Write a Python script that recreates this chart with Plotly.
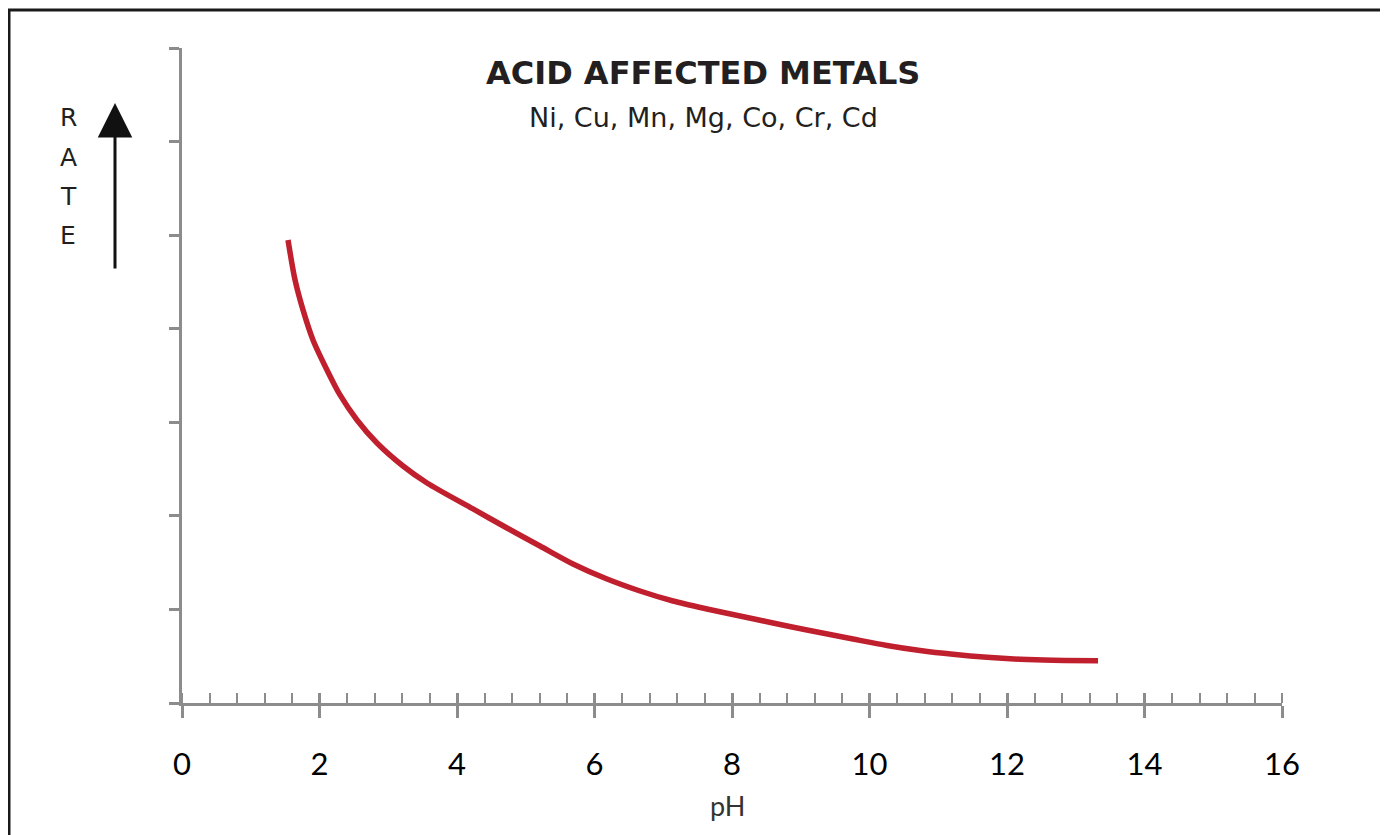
import plotly.graph_objects as go

# Data
ph = [1.542, 1.644, 1.760, 1.905, 2.109, 2.298, 2.545, 2.836, 3.215, 3.564,
      4.233, 4.727, 5.207, 5.687, 6.182, 6.662, 7.142, 7.636, 8.116, 8.596,
      9.091, 9.760, 10.255, 10.735, 11.215, 11.709, 12.189, 12.669, 13.324]
rate = [4.948, 4.521, 4.201, 3.880, 3.559, 3.292, 3.025, 2.779, 2.533, 2.351,
        2.074, 1.870, 1.678, 1.486, 1.325, 1.197, 1.090, 1.005, 0.930, 0.855,
        0.780, 0.684, 0.615, 0.561, 0.520, 0.488, 0.467, 0.456, 0.452]
x_ticks = [0, 2, 4, 6, 8, 10, 12, 14, 16]
title_text = "ACID AFFECTED METALS"
subtitle_text = "Ni, Cu, Mn, Mg, Co, Cr, Cd"
y_letters = ["R", "A", "T", "E"]
x_title = "pH"

OFF = 8  # page offset of the figure (body margin)
W, H = 1380, 827
L, R, T, B = 174, 106, 40, 132
pw, ph_ = W - L - R, H - T - B


def px(xp):
    return (xp - OFF - L) / pw


def py(yp):
    return (H - B - (yp - OFF)) / ph_


AX = "#8c8c8c"
TXT = "#231f20"

fig = go.Figure()
fig.add_trace(go.Scatter(x=ph, y=rate, mode="lines",
                         line=dict(color="#c01f2e", width=5.5, shape="spline", smoothing=0.8),
                         hoverinfo="skip", showlegend=False))
# invisible trace for the overlay axis carrying the inner half of the major ticks
fig.add_trace(go.Scatter(x=[0], y=[0], xaxis="x2", mode="markers",
                         marker=dict(opacity=0), hoverinfo="skip", showlegend=False))

fig.update_layout(
    width=W, height=H,
    margin=dict(l=L, r=R, t=T, b=B),
    paper_bgcolor="white", plot_bgcolor="white",
    xaxis=dict(range=[0, 16], tickvals=x_ticks, ticktext=[str(v) for v in x_ticks],
               showgrid=False, zeroline=False, showline=True, linecolor=AX, linewidth=3,
               ticks="outside", ticklen=12, tickwidth=3, tickcolor=AX,
               ticklabelstandoff=20,
               tickfont=dict(family="Lato, Carlito, sans-serif", size=31, color="black"),
               minor=dict(dtick=0.4, tick0=0, ticks="inside", ticklen=10, tickwidth=2,
                          tickcolor=AX, showgrid=False)),
    xaxis2=dict(range=[0, 16], overlaying="x", anchor="y", side="bottom",
                tickvals=x_ticks, showticklabels=False, showgrid=False, zeroline=False,
                showline=False, ticks="inside", ticklen=10, tickwidth=3, tickcolor=AX),
    yaxis=dict(range=[0, 7], dtick=1, tick0=0, showticklabels=False, showgrid=False,
               zeroline=False, showline=True, linecolor=AX, linewidth=3,
               ticks="outside", ticklen=10, tickwidth=3, tickcolor=AX),
)

ann = []
ann.append(dict(text="<b>" + title_text + "</b>", x=px(703), y=py(73), xref="paper", yref="paper",
                showarrow=False, xanchor="center", yanchor="middle",
                font=dict(family="DejaVu Sans, sans-serif", size=32, color=TXT)))
ann.append(dict(text=subtitle_text, x=px(703), y=py(118), xref="paper", yref="paper",
                showarrow=False, xanchor="center", yanchor="middle",
                font=dict(family="DejaVu Sans, sans-serif", size=27, color=TXT)))
for i, ch in enumerate(y_letters):
    ann.append(dict(text=ch, x=px(68), y=py(118 + 39 * i), xref="paper", yref="paper",
                    showarrow=False, xanchor="center", yanchor="middle",
                    font=dict(family="DejaVu Sans, sans-serif", size=25, color=TXT)))
ann.append(dict(text=x_title, x=px(727), y=py(805), xref="paper", yref="paper",
                showarrow=False, xanchor="center", yanchor="middle",
                font=dict(family="Lato, sans-serif", size=27, color="#333333")))
# upward arrow beside RATE
ann.append(dict(text="", x=px(115), y=py(103), xref="paper", yref="paper",
                ax=0, ay=167, axref="pixel", ayref="pixel", showarrow=True,
                arrowhead=2, arrowsize=2.3, arrowwidth=3, arrowcolor="#111111", standoff=0))
fig.update_layout(annotations=ann)

# frame lines (top and left) visible in the reference
fig.add_shape(type="line", xref="paper", yref="paper", x0=px(8), x1=px(1400), y0=py(10), y1=py(10),
              line=dict(color="#1a1a1a", width=3))
fig.add_shape(type="line", xref="paper", yref="paper", x0=px(9), x1=px(9), y0=py(10), y1=py(850),
              line=dict(color="#1a1a1a", width=3))

fig.write_html("out.html")
